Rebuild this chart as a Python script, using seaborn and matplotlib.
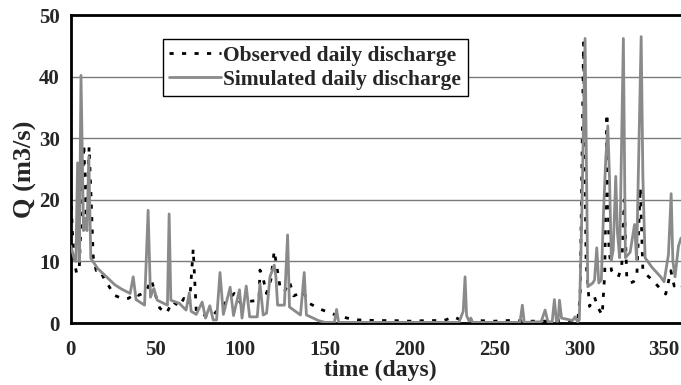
import numpy as np
import pandas as pd
import matplotlib
matplotlib.use("Agg")
import matplotlib.pyplot as plt
import seaborn as sns

# simulated daily discharge (day, Q m3/s)
sim_days = [0, 2, 3, 4, 5, 6, 7.5, 8.5, 9.5, 10.6, 11.8, 16, 21, 26, 30, 35,
            36.8, 38.5, 43.5, 45.6, 47, 49, 51, 57, 58, 59, 64, 68, 69.9, 71,
            74, 77.5, 79.5, 82, 84, 86, 88, 90, 94, 96, 99.5, 101, 103.5,
            105.5, 110, 111.6, 113.5, 115.5, 117.5, 120, 121, 122, 126, 127.9,
            129, 131.5, 135.5, 137.7, 139, 143, 146, 150, 155.5, 156.8, 158,
            229, 231.5, 232.6, 233.5, 235, 236, 237, 265, 266.4, 267.5, 277.5,
            279.8, 281.5, 284, 285.3, 286.5, 287.5, 288.3, 289.5, 293, 296,
            297.5, 299, 300, 301.5, 303.4, 305, 308, 309, 310.3, 311.5, 313,
            314.2, 315.5, 316.8, 317.8, 318.9, 320, 321.5, 322.5, 323.8, 326,
            327.2, 330, 332.6, 333.8, 336.5, 337.5, 338.8, 343, 348, 350,
            352.6, 354.2, 355.2, 356.5, 358.5, 360]
sim_q = [12.5, 10.5, 10.0, 26.0, 10.0, 40.2, 15.0, 17.0, 15.0, 27.0, 10.5, 8.8,
         7.5, 6.2, 5.5, 4.8, 7.5, 3.8, 2.9, 18.3, 4.2, 5.6, 3.7, 2.9, 17.7, 3.7,
         3.2, 2.1, 4.9, 1.9, 1.4, 3.4, 0.8, 2.8, 0.5, 0.5, 8.2, 1.4, 5.8, 1.2,
         5.4, 0.8, 6.0, 1.0, 1.0, 6.4, 1.3, 1.6, 7.5, 9.4, 7.5, 2.9, 2.9, 14.3,
         2.6, 2.1, 1.3, 8.2, 1.3, 0.8, 0.4, 0.1, 0.1, 2.2, 0.1,
         0.1, 1.9, 7.5, 1.2, 0.3, 0.8, 0.1, 0.1, 2.9, 0.1, 0.2,
         2.1, 0.2, 0.2, 3.8, 0.3, 0.3, 3.7, 0.8, 0.6, 0.4,
         1.0, 0.2, 0.5, 17.8, 46.2, 5.9, 6.5, 7.0, 12.2, 6.5, 7.0,
         17.3, 26.0, 32.0, 23.8, 10.2, 11.9, 23.8, 14.7, 10.6, 46.2,
         10.6, 11.5, 16.0, 10.3, 46.5, 23.8, 10.6, 9.0, 7.5, 6.7,
         11.1, 21.0, 10.0, 7.5, 12.5, 13.8]

# observed daily discharge
obs_days = [0, 1, 2, 3.4, 5, 6.5, 7.7, 9, 10.8, 12, 13.2, 15, 17, 20, 22, 25.7,
            30, 34, 38, 40, 44, 47.6, 50, 52.5, 56.5, 60, 64, 66.7, 70, 72.2,
            74, 78.6, 83, 88, 92, 96.4, 100.3, 105, 111, 111.6, 113.5, 115.4,
            118, 120, 121.5, 123.4, 126, 129, 131.5, 137, 140.6, 147.6, 155.4,
            163, 170, 180, 190, 200, 210, 220, 224, 226, 230, 240, 250, 258,
            262, 270, 280, 290, 295, 299, 300.5, 302.5, 304, 306, 309, 311,
            313.5, 315, 316.3, 317.5, 319, 321, 323, 325, 326.5, 328, 330, 332,
            334, 336, 337.5, 339, 343, 348, 351, 354, 356, 358, 360]
obs_q = [21.0, 14.5, 10.0, 8.1, 9.0, 20.0, 29.0, 17.0, 28.6, 20.0, 10.8, 8.5,
         8.6, 7.0, 6.2, 4.5, 4.0, 4.0, 4.8, 4.5, 5.0, 7.0, 4.5, 2.4, 1.6, 3.5,
         2.7, 4.0, 3.0, 12.0, 1.9, 1.3, 1.0, 2.5, 3.5, 4.8, 3.2, 3.5, 3.7, 8.6,
         7.2, 4.8, 7.0, 11.7, 9.2, 5.9, 5.1, 6.7, 4.4, 5.1, 3.2, 2.2, 1.4,
         0.8, 0.5, 0.4, 0.4, 0.3, 0.4, 0.4, 0.8, 1.0, 0.5, 0.4, 0.3, 0.4,
         0.4, 0.3, 0.3, 0.4, 0.4, 0.3, 4.3, 45.5, 10.0, 2.7, 4.2, 2.5,
         1.3, 8.0, 34.0, 12.0, 8.5, 7.8, 7.5, 9.0, 20.0, 7.5, 6.5, 6.7,
         8.0, 22.0, 8.5, 8.0, 7.0, 5.5, 4.7, 8.5, 6.0, 6.5, 6.0]

sns.set_style("white")
plt.rcParams['font.family'] = ['Liberation Serif', 'DejaVu Serif']
plt.rcParams['font.weight'] = 'bold'

fig = plt.figure(figsize=(6.81, 3.85), dpi=100)
ax = fig.add_axes([0.104, 0.161, 0.896, 0.8])

ax.set_axisbelow(True)
ax.yaxis.grid(True, color='#7a7a7a', lw=1.0)

# observed first, simulated drawn over it
sns.lineplot(x=obs_days, y=obs_q, ax=ax, color='black', lw=2.0,
             linestyle=(0, (1.5, 3.0)), sort=False, estimator=None,
             label='Observed daily discharge', zorder=2)
sns.lineplot(x=sim_days, y=sim_q, ax=ax, color='#8a8a8a', lw=2.0,
             sort=False, estimator=None, label='Simulated daily discharge',
             zorder=3)

ax.set_xlim(0, 360)
ax.set_ylim(0, 50)
ax.set_xticks(range(0, 351, 50))
ax.set_yticks(range(0, 51, 10))
ax.tick_params(axis='both', direction='out', length=5, width=1,
               color='black', labelsize=15, pad=3)
ax.tick_params(axis='x', pad=7)
for lab in ax.get_xticklabels() + ax.get_yticklabels():
    lab.set_fontweight('bold')

for s in ['left', 'bottom', 'top']:
    ax.spines[s].set_color('black')
    ax.spines[s].set_linewidth(2)
ax.spines['right'].set_visible(False)

ax.set_xlabel('time (days)', fontsize=17, fontweight='bold')
ax.set_ylabel('Q (m3/s)', fontsize=19, fontweight='bold')
ax.xaxis.set_label_coords(0.507, -0.12)
ax.yaxis.set_label_coords(-0.055, 0.5)

leg = ax.legend(loc='upper left',
                bbox_to_anchor=(0.151, 0.922), borderaxespad=0,
                handlelength=2.4, handletextpad=0.1,
                borderpad=0.3, labelspacing=0.2, fancybox=False,
                framealpha=1, edgecolor='black',
                prop={'weight': 'bold', 'size': 15.5})
leg.get_frame().set_linewidth(1)

fig.savefig('out.png', dpi=100)
